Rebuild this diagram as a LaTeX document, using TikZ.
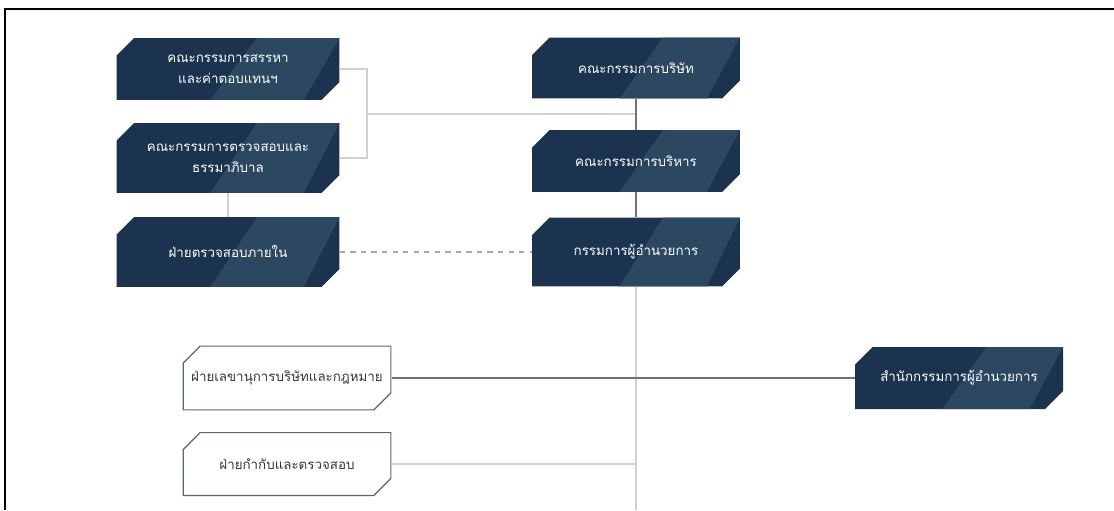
\documentclass[tikz,border=0pt]{standalone}
\usepackage{fontspec}
\newfontfamily\thaifont[Script=Thai]{Loma}
\usepackage{xcolor}
\usepackage{tikz}
\usetikzlibrary{calc}
\definecolor{boxNavy}{HTML}{1C3350}
\definecolor{boxBand}{HTML}{2C4861}
\definecolor{boxEdge}{HTML}{5B6577}
\definecolor{lineDark}{HTML}{707378}
\definecolor{lineLight}{HTML}{D0D0D0}
\definecolor{lineDot}{HTML}{A8A8A8}
\def\chamf{10pt}
\newcommand\chamferpath[1]{let \p1=(bsw), \p2=(bne) in
  (\x1+#1,\y1+#1) -- (\x1+#1,\y2-\chamf) -- (\x1+\chamf,\y2-#1) -- (\x2-#1,\y2-#1)
  -- (\x2-#1,\y1+\chamf) -- (\x2-\chamf,\y1+#1) -- cycle}

\tikzset{
  unit/.style={rectangle, minimum width=4.46cm, minimum height=1.32cm, inner sep=0pt, align=center,
    font=\thaifont\fontsize{7.6}{12}\selectfont},
  darkunit/.style={unit, text=white,
    path picture={
      \path (path picture bounding box.south west) coordinate (bsw)
            (path picture bounding box.north east) coordinate (bne);
      \fill[boxNavy] \chamferpath{0pt};
      \fill[boxBand] let \p1=(bsw), \p2=(bne), \n1={\x2-\x1} in
        (\x1+0.42*\n1,\y1) -- (\x1+0.63*\n1,\y2) -- (\x2,\y2) -- (\x1+0.84*\n1,\y1) -- cycle;
      \fill[white] let \p1=(bsw), \p2=(bne) in
        (\x2-\chamf,\y1) -- (\x2,\y1+\chamf) -- (\x2,\y1) -- cycle;
    }},
  lightunit/.style={unit, text=black!78,
    path picture={
      \path (path picture bounding box.south west) coordinate (bsw)
            (path picture bounding box.north east) coordinate (bne);
      \draw[boxEdge, line width=0.7pt] \chamferpath{0.35pt};
    }},
  link/.style={draw=lineLight, line width=0.8pt},
  linkdark/.style={draw=lineDark, line width=0.8pt},
  linkdot/.style={draw=lineDot, line width=1pt, dash pattern=on 3pt off 3pt}
}

\begin{document}
\begin{tikzpicture}[x=0.02cm, y=-0.02cm]
  \useasboundingbox[fill=white] (0,0) rectangle (1114,510);
  \draw[line width=1.2pt] (1114,9) -- (5,9) -- (5,510);

  \node[darkunit, minimum height=1.24cm] (nom) at (228,69) {คณะกรรมการสรรหา\\และค่าตอบแทนฯ};
  \node[darkunit, minimum height=1.40cm] (aud) at (228,158) {คณะกรรมการตรวจสอบและ\\ธรรมาภิบาล};
  \node[darkunit, minimum height=1.40cm] (ia) at (228,252) {ฝ่ายตรวจสอบภายใน};

  \node[darkunit, minimum width=4.16cm, minimum height=1.22cm] (board) at (636,68) {คณะกรรมการบริษัท};
  \node[darkunit, minimum width=4.16cm, minimum height=1.24cm] (exec) at (636,161) {คณะกรรมการบริหาร};
  \node[darkunit, minimum width=4.16cm, minimum height=1.38cm] (md) at (636,252) {กรรมการผู้อำนวยการ};

  \node[lightunit, minimum width=4.18cm, minimum height=1.30cm] (sec) at (287,378) {ฝ่ายเลขานุการบริษัทและกฎหมาย};
  \node[lightunit, minimum width=4.18cm, minimum height=1.28cm] (comp) at (287,464) {ฝ่ายกำกับและตรวจสอบ};
  \node[darkunit, minimum width=4.16cm, minimum height=1.24cm] (mdo) at (959,378) {สำนักกรรมการผู้อำนวยการ};

  \coordinate (brk) at (367,114);
  \coordinate (spine) at (636,510);

  \draw[link] (nom.east) -| (brk) |- (aud.east);
  \draw[link] (brk) -- (brk -| board);
  \draw[link] (aud) -- (ia);
  \draw[linkdot] (ia) -- (md);
  \draw[linkdark] (board) -- (exec);
  \draw[linkdark] (exec) -- (md);
  \draw[link] (md) -- (spine);
  \draw[linkdark] (sec) -- (mdo);
  \draw[link] (comp) -- (comp -| spine);
\end{tikzpicture}
\end{document}
